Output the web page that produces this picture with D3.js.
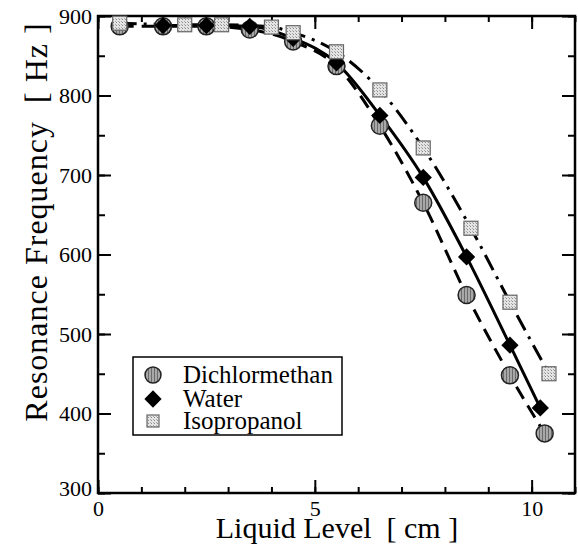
<!DOCTYPE html>
<html>
<head>
<meta charset="utf-8">
<script src="https://cdn.jsdelivr.net/npm/d3@7"></script>
<style>
  body { margin: 0; background: #fff; }
  svg { display: block; }
  svg text { font-family: "Liberation Serif", "Times New Roman", serif; }
</style>
</head>
<body>
<svg id="chart"></svg>
<script>
// liquid level [cm] and resonance frequency [Hz]
const dichLevel = [0.5, 1.5, 2.5, 3.5, 4.5, 5.5, 6.5, 7.5, 8.5, 9.5, 10.3];
const dichFreq = [887, 887, 887, 883, 868, 837, 762, 665, 549, 448, 375];

const waterLevel = [1.5, 2.5, 3.5, 4.5, 5.5, 6.5, 7.5, 8.5, 9.5, 10.2];
const waterFreq = [888, 888, 887, 872, 841, 775, 697, 597, 486, 407];

const isoLevel = [0.5, 2.0, 2.85, 4.0, 4.5, 5.5, 6.5, 7.5, 8.6, 9.5, 10.4];
const isoFreq = [891, 889, 889, 886, 879, 855, 807, 734, 633, 540, 450];

const seriesNames = ["Dichlormethan", "Water", "Isopropanol"];
const xTicks = [0, 5, 10];
const yTicks = [300, 400, 500, 600, 700, 800, 900];

const width = 578, height = 555;
const margin = { top: 16, right: 3, bottom: 62, left: 98 };
const w = width - margin.left - margin.right;
const h = height - margin.top - margin.bottom;

const svg = d3.select("#chart")
    .attr("width", width)
    .attr("height", height);

// fill textures for the markers
const defs = svg.append("defs");
const p1 = defs.append("pattern").attr("id", "grayDots")
    .attr("width", 3).attr("height", 3).attr("patternUnits", "userSpaceOnUse");
p1.append("rect").attr("width", 3).attr("height", 3).attr("fill", "#a8a8a8");
p1.append("rect").attr("width", 1).attr("height", 3).attr("fill", "#6a6a6a");
const p2 = defs.append("pattern").attr("id", "lightDots")
    .attr("width", 3).attr("height", 3).attr("patternUnits", "userSpaceOnUse");
p2.append("rect").attr("width", 3).attr("height", 3).attr("fill", "#e4e4e4");
p2.append("rect").attr("width", 1).attr("height", 1).attr("fill", "#8a8a8a");
p2.append("rect").attr("x", 2).attr("y", 2).attr("width", 1).attr("height", 1).attr("fill", "#aaaaaa");

const g = svg.append("g")
    .attr("transform", `translate(${margin.left},${margin.top})`);

const x = d3.scaleLinear().domain([0, 11]).range([0, w]);
const y = d3.scaleLinear().domain([300, 900]).range([h, 0]);

const minorX = d3.range(0, 11.01, 1);
const minorY = d3.range(300, 900.1, 50);

// ticks point inward on all four sides
function styleAxis(sel) {
    sel.attr("font-family", null).attr("font-size", null);
    sel.select(".domain").remove();
    sel.selectAll(".tick line").attr("stroke", "#000").attr("stroke-width", 2);
    sel.selectAll(".tick text").attr("fill", "#000").style("font-size", "22px");
}

g.append("g").attr("transform", `translate(0,${h})`)
    .call(d3.axisBottom(x).tickValues(minorX).tickFormat("").tickSizeInner(-6).tickSizeOuter(0))
    .call(styleAxis);
g.append("g").attr("transform", `translate(0,${h})`)
    .call(d3.axisBottom(x).tickValues(xTicks).tickFormat(d3.format("d")).tickSizeInner(-13).tickSizeOuter(0).tickPadding(7))
    .call(styleAxis);
g.append("g")
    .call(d3.axisTop(x).tickValues(minorX).tickFormat("").tickSizeInner(-6).tickSizeOuter(0))
    .call(styleAxis);
g.append("g")
    .call(d3.axisTop(x).tickValues(xTicks).tickFormat("").tickSizeInner(-13).tickSizeOuter(0))
    .call(styleAxis);

g.append("g")
    .call(d3.axisLeft(y).tickValues(minorY).tickFormat("").tickSizeInner(-7).tickSizeOuter(0))
    .call(styleAxis);
g.append("g")
    .call(d3.axisLeft(y).tickValues(yTicks).tickFormat(d3.format("d")).tickSizeInner(-13).tickSizeOuter(0).tickPadding(6))
    .call(styleAxis);
g.append("g").attr("transform", `translate(${w},0)`)
    .call(d3.axisRight(y).tickValues(minorY).tickFormat("").tickSizeInner(-7).tickSizeOuter(0))
    .call(styleAxis);
g.append("g").attr("transform", `translate(${w},0)`)
    .call(d3.axisRight(y).tickValues(yTicks).tickFormat("").tickSizeInner(-13).tickSizeOuter(0))
    .call(styleAxis);

// the 300 label sits a bit lower, as in the original
g.selectAll(".tick text").filter(function () { return this.textContent === "300"; })
    .attr("dy", "0.1em");

// frame
g.append("rect")
    .attr("width", w).attr("height", h)
    .attr("fill", "none").attr("stroke", "#000").attr("stroke-width", 2.5);

// fitted curves
const line = d3.line()
    .x(d => x(d[0]))
    .y(d => y(d[1]))
    .curve(d3.curveMonotoneX);

const series = [
    { level: dichLevel, freq: dichFreq, dash: "14,8" },
    { level: waterLevel, freq: waterFreq, dash: null },
    { level: isoLevel, freq: isoFreq, dash: "17,7,3,7" }
];

series.forEach(s => {
    g.append("path")
        .datum(d3.zip(s.level, s.freq))
        .attr("d", line)
        .attr("fill", "none")
        .attr("stroke", "#000")
        .attr("stroke-width", 3)
        .attr("stroke-dasharray", s.dash);
});

// markers
const diamond = d3.symbol().type(d3.symbolDiamond2).size(190);

function drawCircles(sel, pts) {
    sel.selectAll("circle.dich").data(pts).join("circle")
        .attr("class", "dich")
        .attr("cx", d => x(d[0])).attr("cy", d => y(d[1]))
        .attr("r", 8.5)
        .attr("fill", "url(#grayDots)").attr("stroke", "#222").attr("stroke-width", 1.5);
}
function drawDiamonds(sel, pts) {
    sel.selectAll("path.water").data(pts).join("path")
        .attr("class", "water")
        .attr("transform", d => `translate(${x(d[0])},${y(d[1])})`)
        .attr("d", diamond)
        .attr("fill", "#000");
}
function drawSquares(sel, pts) {
    sel.selectAll("rect.iso").data(pts).join("rect")
        .attr("class", "iso")
        .attr("x", d => x(d[0]) - 7).attr("y", d => y(d[1]) - 7)
        .attr("width", 14).attr("height", 14)
        .attr("fill", "url(#lightDots)").attr("stroke", "#666").attr("stroke-width", 1.2);
}

drawCircles(g.append("g"), d3.zip(dichLevel, dichFreq));
drawDiamonds(g.append("g"), d3.zip(waterLevel, waterFreq));
drawSquares(g.append("g"), d3.zip(isoLevel, isoFreq));

// axis titles
svg.append("text")
    .attr("x", 337)
    .attr("y", 538)
    .attr("text-anchor", "middle")
    .style("font-size", "30px")
    .attr("fill", "#000")
    .attr("xml:space", "preserve")
    .text("Liquid Level  [ cm ]");

svg.append("text")
    .attr("transform", "translate(47,222) rotate(-90)")
    .attr("text-anchor", "middle")
    .style("font-size", "32px")
    .style("letter-spacing", "1px")
    .attr("fill", "#000")
    .attr("xml:space", "preserve")
    .text("Resonance Frequency  [ Hz ]");

// legend
const legend = svg.append("g").attr("transform", "translate(133,357)");
legend.append("rect")
    .attr("width", 209).attr("height", 78)
    .attr("fill", "#fff").attr("stroke", "#000").attr("stroke-width", 1.5);

const rowY = [18, 42, 64];
legend.selectAll("text").data(seriesNames).join("text")
    .attr("x", 50)
    .attr("y", (d, i) => rowY[i] + 8)
    .style("font-size", "25px")
    .attr("fill", "#000")
    .text(d => d);

legend.append("circle").attr("cx", 20).attr("cy", rowY[0]).attr("r", 8)
    .attr("fill", "url(#grayDots)").attr("stroke", "#222").attr("stroke-width", 1.5);
legend.append("path").attr("transform", `translate(20,${rowY[1]})`)
    .attr("d", diamond).attr("fill", "#000");
legend.append("rect").attr("x", 14).attr("y", rowY[2] - 6).attr("width", 12).attr("height", 12)
    .attr("fill", "url(#lightDots)").attr("stroke", "#666").attr("stroke-width", 1.2);
</script>
</body>
</html>
